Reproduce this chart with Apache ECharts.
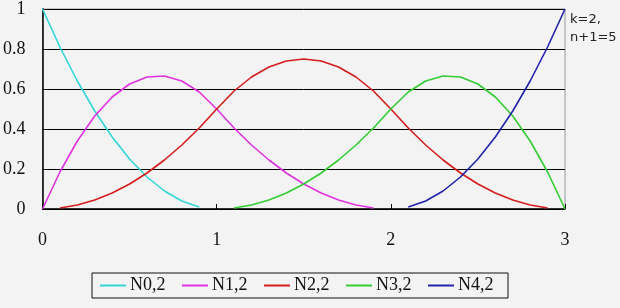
<!DOCTYPE html>
<html><head><meta charset="utf-8">
<script src="https://cdn.jsdelivr.net/npm/echarts@6/dist/echarts.min.js"></script>
<style>html,body{margin:0;padding:0;background:#f3f3f3;}#c{width:620px;height:308px;}</style>
</head><body><div id="c"></div>
<script>
// parameter t sampled every 0.1 from 0 to 3
var tValues = [0,0.1,0.2,0.3,0.4,0.5,0.6,0.7,0.8,0.9,1.0,1.1,1.2,1.3,1.4,1.5,1.6,1.7,1.8,1.9,2.0,2.1,2.2,2.3,2.4,2.5,2.6,2.7,2.8,2.9,3.0];
var seriesNames = ['N0,2','N1,2','N2,2','N3,2','N4,2'];
var n0 = [1,0.81,0.64,0.49,0.36,0.25,0.16,0.09,0.04,0.01,null,null,null,null,null,null,null,null,null,null,null,null,null,null,null,null,null,null,null,null,null];
var n1 = [0,0.185,0.34,0.465,0.56,0.625,0.66,0.665,0.64,0.585,0.5,0.405,0.32,0.245,0.18,0.125,0.08,0.045,0.02,0.005,null,null,null,null,null,null,null,null,null,null,null];
var n2 = [null,0.005,0.02,0.045,0.08,0.125,0.18,0.245,0.32,0.405,0.5,0.59,0.66,0.71,0.74,0.75,0.74,0.71,0.66,0.59,0.5,0.405,0.32,0.245,0.18,0.125,0.08,0.045,0.02,0.005,null];
var n3 = [null,null,null,null,null,null,null,null,null,null,null,0.005,0.02,0.045,0.08,0.125,0.18,0.245,0.32,0.405,0.5,0.585,0.64,0.665,0.66,0.625,0.56,0.465,0.34,0.185,0];
var n4 = [null,null,null,null,null,null,null,null,null,null,null,null,null,null,null,null,null,null,null,null,null,0.01,0.04,0.09,0.16,0.25,0.36,0.49,0.64,0.81,1];
var xTicks = [0,1,2,3];
var yTicks = [0,0.2,0.4,0.6,0.8,1];
var colors = ['#33d6d6','#e033e0','#d41c1c','#33cc33','#2222aa'];

var allVals = [n0,n1,n2,n3,n4];
function pairs(v){ var out=[]; for(var i=0;i<tValues.length;i++){ if(v[i]!==null) out.push([tValues[i], v[i]]); } return out; }

var chart = echarts.init(document.getElementById('c'), null, {renderer:'canvas'});
var serif = '"Liberation Serif","Times New Roman",serif';
chart.setOption({
  backgroundColor:'#f3f3f3',
  animation:false,
  title:{
    text:'k=2,\nn+1=5', left:570, top:11, padding:0,
    textStyle:{fontFamily:'"DejaVu Sans",sans-serif', fontSize:13, fontWeight:'normal', color:'#222', lineHeight:18}
  },
  grid:{left:41.5, right:55, top:7, bottom:99, show:true, borderColor:'#999', borderWidth:1, backgroundColor:'transparent'},
  legend:{
    left:92, top:273, orient:'horizontal',
    data:seriesNames,
    itemWidth:26, itemHeight:2, itemGap:5, icon:'rect',
    padding:[3,3,3,8],
    borderColor:'#111', borderWidth:1,
    textStyle:{fontFamily:serif, fontSize:18, color:'#111', width:47, lineHeight:19, padding:[0,0,0,-1]}
  },
  xAxis:{
    type:'value', min:0, max:3, interval:1,
    axisLine:{show:true, onZero:false, lineStyle:{color:'#000', width:1.5}},
    axisTick:{show:true, inside:true, length:5, lineStyle:{color:'#000'}},
    axisLabel:{fontFamily:serif, fontSize:18, color:'#111', margin:22,
      formatter:function(v){ return xTicks.indexOf(v)>=0 ? String(v) : ''; }},
    splitLine:{show:false}
  },
  yAxis:{
    type:'value', min:0, max:1, interval:0.2,
    axisLine:{show:true, lineStyle:{color:'#000', width:1.5}},
    axisTick:{show:false},
    axisLabel:{fontFamily:serif, fontSize:18, color:'#111', margin:17, padding:[4,0,0,0],
      formatter:function(v){ var r=Math.round(v*10)/10; return yTicks.indexOf(r)>=0 ? String(r) : ''; }},
    splitLine:{show:true, lineStyle:{color:'#000', width:1}}
  },
  series: seriesNames.map(function(name,i){
    return {name:name, type:'line', data:pairs(allVals[i]), symbol:'none', smooth:false,
      color:colors[i], lineStyle:{color:colors[i], width:1.6}, itemStyle:{color:colors[i]}};
  })
});
</script></body></html>
